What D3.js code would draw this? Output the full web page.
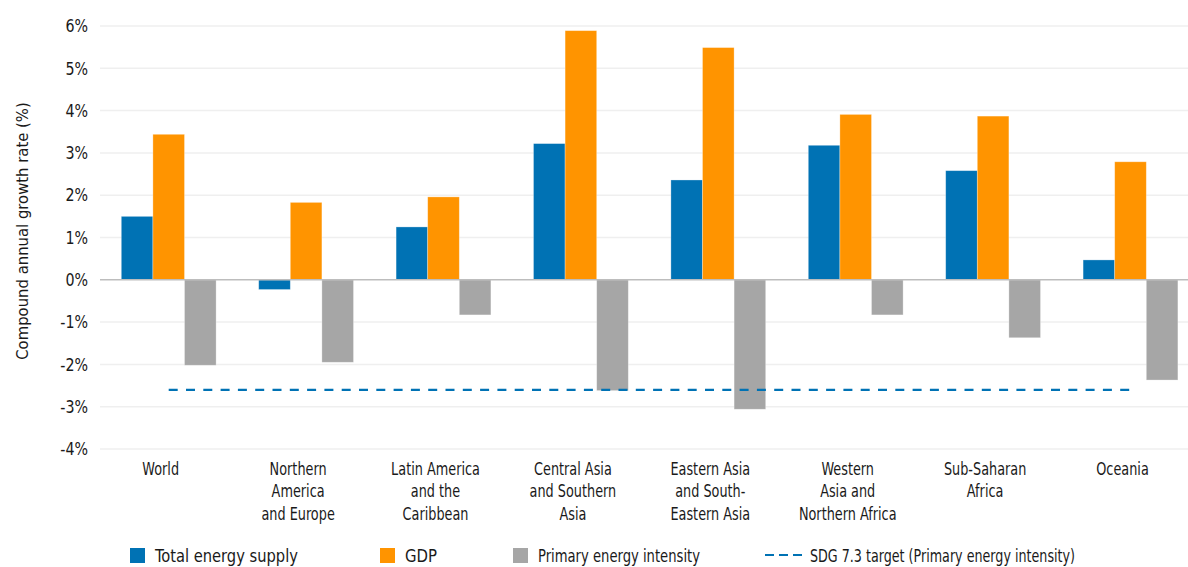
<!DOCTYPE html>
<html>
<head>
<meta charset="utf-8">
<script src="https://cdn.jsdelivr.net/npm/d3@7"></script>
<style>
  body { margin: 0; background: #fff; }
  svg text { font-family: "DejaVu Sans Condensed", "Liberation Sans Narrow", "Roboto Condensed", Roboto, sans-serif; fill: #1a1a1a; }
</style>
</head>
<body>
<div id="chart"></div>
<script>
  // Data
  const regions = [
    ["World"],
    ["Northern", "America", "and Europe"],
    ["Latin America", "and the", "Caribbean"],
    ["Central Asia", "and Southern", "Asia"],
    ["Eastern Asia", "and South-", "Eastern Asia"],
    ["Western", "Asia and", "Northern Africa"],
    ["Sub-Saharan", "Africa"],
    ["Oceania"],
  ];
  const seriesNames = ["Total energy supply", "GDP", "Primary energy intensity"];
  const energySupply = [1.5, -0.23, 1.25, 3.22, 2.36, 3.18, 2.58, 0.47];
  const gdp = [3.44, 1.83, 1.96, 5.89, 5.49, 3.91, 3.87, 2.79];
  const energyIntensity = [-2.02, -1.95, -0.83, -2.62, -3.06, -0.83, -1.37, -2.37];
  const sdgTarget = -2.6;
  const sdgName = "SDG 7.3 target (Primary energy intensity)";
  const yTicks = [-4, -3, -2, -1, 0, 1, 2, 3, 4, 5, 6];

  // Dimensions
  const width = 1188;
  const height = 567;
  const step = 137.4;
  const margin = { left: 100, top: 26 };
  const plotBottom = 449;

  // Style
  const colors = ["#0072b4", "#ff9400", "#a6a6a6"];
  const sdgColor = "#0072b4";

  const series = [energySupply, gdp, energyIntensity];
  const idx = d3.range(regions.length);

  const x0 = d3
    .scaleBand()
    .domain(idx)
    .range([margin.left, margin.left + step * regions.length])
    .paddingInner(0.31)
    .paddingOuter(0.155);
  const x1 = d3.scaleBand().domain([0, 1, 2]).range([0, x0.bandwidth()]);
  const y = d3.scaleLinear().domain([-4, 6]).range([plotBottom, margin.top]);

  const svg = d3
    .select("#chart")
    .append("svg")
    .attr("width", width)
    .attr("height", height);

  // Grid
  svg
    .append("g")
    .selectAll("line")
    .data(yTicks.filter((d) => d !== 0))
    .join("line")
    .attr("x1", margin.left)
    .attr("x2", width)
    .attr("y1", (d) => y(d))
    .attr("y2", (d) => y(d))
    .attr("stroke", "#efefef")
    .attr("stroke-width", 1.5);

  // Y axis labels
  const yAxis = d3
    .axisLeft(y)
    .tickValues(yTicks)
    .tickSize(0)
    .tickPadding(0)
    .tickFormat((d) => d + "%");
  svg
    .append("g")
    .attr("transform", "translate(88,0)")
    .call(yAxis)
    .call((g) => g.select(".domain").remove())
    .call((g) =>
      g
        .selectAll("text")
        .attr("font-size", 18)
        .attr("font-family", null)
        .attr("fill", "#1a1a1a")
        .attr("transform", "scale(0.88,1)")
    );

  svg
    .append("text")
    .attr("transform", "translate(28,231) rotate(-90)")
    .attr("text-anchor", "middle")
    .attr("font-size", 16.5)
    .text("Compound annual growth rate (%)");

  // Bars
  const groups = svg
    .append("g")
    .selectAll("g")
    .data(idx)
    .join("g")
    .attr("transform", (i) => `translate(${x0(i)},0)`);
  groups
    .selectAll("rect")
    .data((i) => series.map((s, k) => ({ k, v: s[i] })))
    .join("rect")
    .attr("x", (d) => x1(d.k))
    .attr("width", x1.bandwidth())
    .attr("y", (d) => y(Math.max(0, d.v)))
    .attr("height", (d) => Math.abs(y(d.v) - y(0)))
    .attr("fill", (d) => colors[d.k])
    .attr("stroke", "#fff")
    .attr("stroke-opacity", 0.4)
    .attr("stroke-width", 0.75);

  // Zero line
  svg
    .append("line")
    .attr("x1", margin.left)
    .attr("x2", width)
    .attr("y1", y(0))
    .attr("y2", y(0))
    .attr("stroke", "#bdbdbd")
    .attr("stroke-width", 1.5);

  // SDG target line
  const cx = (i) => x0(i) + x0.bandwidth() / 2;
  svg
    .append("line")
    .attr("x1", cx(0))
    .attr("x2", cx(regions.length - 1))
    .attr("y1", y(sdgTarget))
    .attr("y2", y(sdgTarget))
    .attr("stroke", sdgColor)
    .attr("stroke-width", 2.2)
    .attr("stroke-dasharray", "9,8.3");

  // Category labels
  svg
    .append("g")
    .selectAll("text")
    .data(idx)
    .join("text")
    .attr("text-anchor", "middle")
    .attr("font-size", 17)
    .attr("transform", (i) => `translate(${cx(i) - 8},475) scale(0.84,1)`)
    .selectAll("tspan")
    .data((i) => regions[i])
    .join("tspan")
    .attr("x", 0)
    .attr("y", (d, j) => j * 22.5)
    .text((d) => d);

  // Legend
  const legend = svg.append("g").attr("font-size", 17.5);
  const legendX = [130, 380, 513];
  const legendW = [143, 32, 162];
  seriesNames.forEach((name, k) => {
    legend
      .append("rect")
      .attr("x", legendX[k])
      .attr("y", 548)
      .attr("width", 15)
      .attr("height", 15)
      .attr("fill", colors[k]);
    legend
      .append("text")
      .attr("x", legendX[k] + 25)
      .attr("y", 562)
      .attr("textLength", legendW[k])
      .attr("lengthAdjust", "spacingAndGlyphs")
      .text(name);
  });
  legend
    .append("line")
    .attr("x1", 765)
    .attr("x2", 802)
    .attr("y1", 555)
    .attr("y2", 555)
    .attr("stroke", sdgColor)
    .attr("stroke-width", 2.2)
    .attr("stroke-dasharray", "9,5");
  legend
    .append("text")
    .attr("x", 810)
    .attr("y", 562)
    .attr("textLength", 265)
    .attr("lengthAdjust", "spacingAndGlyphs")
    .text(sdgName);
</script>
</body>
</html>
